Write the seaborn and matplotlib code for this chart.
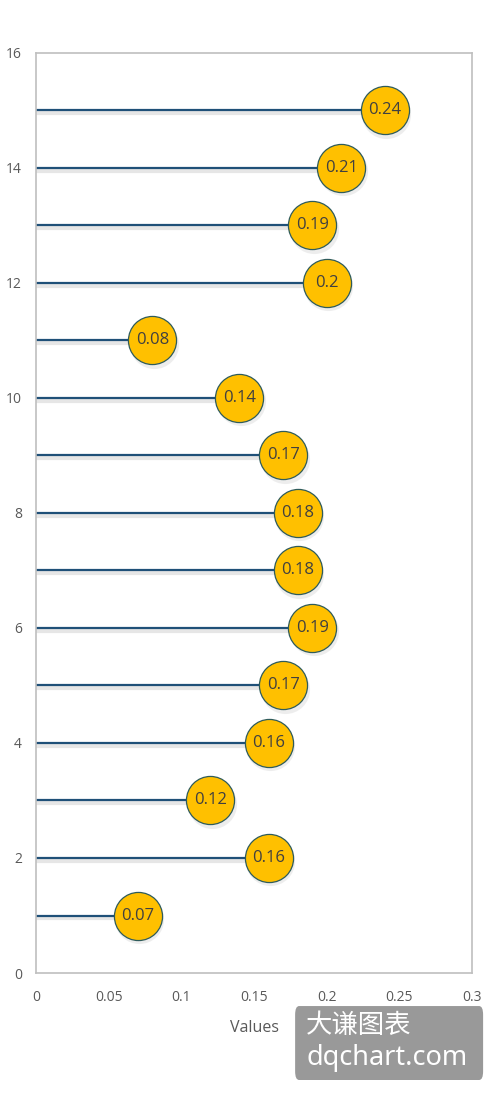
import matplotlib
matplotlib.use("Agg")
import matplotlib.pyplot as plt
import seaborn as sns
import pandas as pd
from matplotlib.patches import FancyBboxPatch

# data
positions = [1, 2, 3, 4, 5, 6, 7, 8, 9, 10, 11, 12, 13, 14, 15]
values = [0.07, 0.16, 0.12, 0.16, 0.17, 0.19, 0.18, 0.18, 0.17, 0.14, 0.08, 0.2, 0.19, 0.21, 0.24]
x_ticks = [0, 0.05, 0.1, 0.15, 0.2, 0.25, 0.3]
x_tick_labels = ["0", "0.05", "0.1", "0.15", "0.2", "0.25", "0.3"]
y_ticks = [0, 2, 4, 6, 8, 10, 12, 14, 16]

df = pd.DataFrame({"pos": positions, "value": values})

sns.set_style("white")
plt.rcParams['font.family'] = ['Open Sans', 'Noto Sans CJK SC']

fig = plt.figure(figsize=(4.96, 10.94), dpi=100)
ax = fig.add_axes([0.0726, 0.1106, 0.879, 0.841])

line_col = "#1F5078"
# soft shadow under the stems
ax.hlines(df["pos"] - 0.05, 0, df["value"], color="#e6e6e6", linewidth=3, zorder=1)
ax.hlines(df["pos"], 0, df["value"], color=line_col, linewidth=1.6, zorder=2)

# shadow under markers
ax.scatter(df["value"] + 0.001, df["pos"] - 0.06, s=1250, color="#dddddd",
           alpha=0.5, linewidths=0, zorder=3)
sns.scatterplot(data=df, x="value", y="pos", s=1200, color="#FFC000",
                edgecolor="#2E5B5B", linewidth=0.9, zorder=4, ax=ax, legend=False)

for v, p in zip(values, positions):
    ax.text(v, p, f"{v:g}", ha="center", va="center", fontsize=12,
            color="#404040", zorder=5)

ax.set_xlim(0, 0.3)
ax.set_ylim(0, 16)
ax.set_xticks(x_ticks)
ax.set_xticklabels(x_tick_labels)
ax.set_yticks(y_ticks)
ax.tick_params(axis="both", labelsize=10, colors="#595959", length=0)
ax.tick_params(axis="x", pad=12)
ax.tick_params(axis="y", pad=10)
ax.set_xlabel("Values", fontsize=11.5, color="#595959", labelpad=11)
ax.set_ylabel("")
for s in ax.spines.values():
    s.set_color("#bfbfbf")
    s.set_linewidth(1.2)

# watermark
box = FancyBboxPatch((0.595, 0.0128), 0.379, 0.0676, boxstyle="round,pad=0,rounding_size=0.008",
                     transform=fig.transFigure, facecolor="#999999", edgecolor="none")
fig.patches.append(box)
fig.text(0.617, 0.063, "大谦图表", fontsize=19, color="white",
         family=['Noto Sans CJK SC', 'DejaVu Sans'], va="center")
fig.text(0.617, 0.033, "dqchart.com", fontsize=19.5, color="white",
         family=['Noto Sans', 'DejaVu Sans'], va="center")

fig.savefig("out.png", dpi=100)
